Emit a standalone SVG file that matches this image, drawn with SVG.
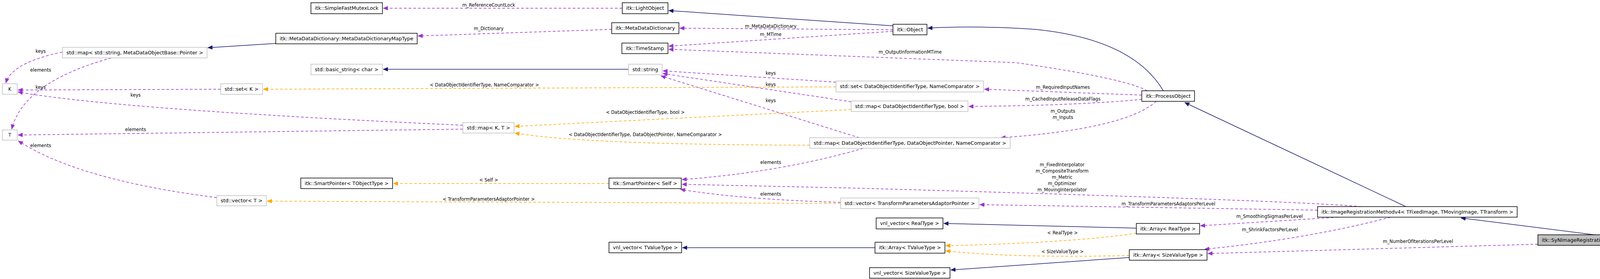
<svg xmlns="http://www.w3.org/2000/svg" width="4464" height="713" viewBox="0 0 4464 713">
<style>
text{font-family:"DejaVu Sans","Liberation Sans",sans-serif;font-size:11.5px;fill:#000}
.nt{text-anchor:middle;dominant-baseline:central}
.lb{text-anchor:middle;dominant-baseline:central}
.nb{fill:#fff;stroke:#000;stroke-width:1.5}
.ng{fill:#fff;stroke:#bfbfbf;stroke-width:1.5}
.nf{fill:#bfbfbf;stroke:#000;stroke-width:1.5}
.inh{fill:none;stroke:#191970;stroke-width:1.5;marker-end:url(#an)}
.use{fill:none;stroke:#9a32cd;stroke-width:1.5;stroke-dasharray:7,5;marker-end:url(#ap)}
.tpl{fill:none;stroke:#ffa500;stroke-width:1.5;stroke-dasharray:7,5;marker-end:url(#ao)}
</style>
<defs>
<marker id="an" markerUnits="userSpaceOnUse" markerWidth="13" markerHeight="11" refX="12" refY="5.5" orient="auto"><path d="M0,0 L13,5.5 L0,11 z" fill="#191970"/></marker>
<marker id="ap" markerUnits="userSpaceOnUse" markerWidth="13" markerHeight="11" refX="12" refY="5.5" orient="auto"><path d="M0,0 L13,5.5 L0,11 z" fill="#9a32cd"/></marker>
<marker id="ao" markerUnits="userSpaceOnUse" markerWidth="13" markerHeight="11" refX="12" refY="5.5" orient="auto"><path d="M0,0 L13,5.5 L0,11 z" fill="#ffa500"/></marker>
</defs>
<rect width="4464" height="713" fill="#fff"/>
<g id="connectors">
<path class="use" d="M1593,21 L981,21"/>
<text class="lb" x="1251" y="13">m_ReferenceCountLock</text>
<path class="inh" d="M2286,66 L1712,27"/>
<path class="use" d="M1566,75 L1070,92"/>
<text class="lb" x="1251" y="73">m_Dictionary</text>
<path class="use" d="M2286,76 L1740,72"/>
<text class="lb" x="1973" y="67">m_MetaDataDictionary</text>
<path class="use" d="M2286,80 L1712,118"/>
<text class="lb" x="1973" y="88">m_MTime</text>
<path class="use" d="M2937,232 Q2880,200 2600,160 L1712,126"/>
<text class="lb" x="2330" y="133">m_OutputInformationMTime</text>
<path class="inh" d="M706,111 L532,122"/>
<path class="use" d="M160,133 Q30,160 15,212"/>
<text class="lb" x="104" y="131">keys</text>
<path class="use" d="M285,148 Q60,210 30,330"/>
<text class="lb" x="104" y="179">elements</text>
<path class="inh" d="M1609,177 L981,177"/>
<path class="use" d="M565,228 L46,230"/>
<text class="lb" x="104" y="223">keys</text>
<path class="use" d="M1185,320 Q300,280 46,235"/>
<text class="lb" x="347" y="243">keys</text>
<path class="use" d="M1185,330 L46,345"/>
<text class="lb" x="347" y="331">elements</text>
<path class="use" d="M555,505 Q200,460 47,360"/>
<text class="lb" x="104" y="372">elements</text>
<path class="tpl" d="M2140,222 L674,228"/>
<text class="lb" x="1240" y="217">&lt; DataObjectIdentifierType, NameComparator &gt;</text>
<path class="use" d="M2140,210 L1697,181"/>
<text class="lb" x="1973" y="187">keys</text>
<path class="use" d="M2179,260 L1697,188"/>
<text class="lb" x="1973" y="216">keys</text>
<path class="use" d="M2200,352 L1692,194"/>
<text class="lb" x="1973" y="257">keys</text>
<path class="tpl" d="M2179,280 L1318,323"/>
<text class="lb" x="1652" y="287">&lt; DataObjectIdentifierType, bool &gt;</text>
<path class="tpl" d="M2073,371 Q1500,370 1318,340"/>
<text class="lb" x="1652" y="344">&lt; DataObjectIdentifierType, DataObjectPointer, NameComparator &gt;</text>
<path class="use" d="M2923,243 L2520,228"/>
<text class="lb" x="2721" y="223">m_RequiredInputNames</text>
<path class="use" d="M2923,254 Q2750,270 2480,272"/>
<text class="lb" x="2721" y="253">m_CachedInputReleaseDataFlags</text>
<path class="use" d="M2960,259 Q2880,330 2562,352"/>
<text class="lb" x="2721" y="284">m_Outputs</text>
<text class="lb" x="2721" y="300">m_Inputs</text>
<path class="inh" d="M2978,232 Q2900,100 2650,75 Q2500,65 2375,72"/>
<path class="inh" d="M3599,528 L3033,262"/>
<path class="use" d="M2210,379 Q2000,440 1746,459"/>
<text class="lb" x="1973" y="415">elements</text>
<path class="use" d="M3485,528 Q3300,512 2200,481 L1746,471"/>
<text class="lb" x="2719" y="421">m_FixedInterpolator</text>
<text class="lb" x="2719" y="437">m_CompositeTransform</text>
<text class="lb" x="2719" y="453">m_Metric</text>
<text class="lb" x="2719" y="469">m_Optimizer</text>
<text class="lb" x="2719" y="485">m_MovingInterpolator</text>
<path class="use" d="M2152,517 Q1900,510 1742,484"/>
<text class="lb" x="1973" y="496">elements</text>
<path class="tpl" d="M1559,469 L1007,469"/>
<text class="lb" x="1251" y="460">&lt; Self &gt;</text>
<path class="tpl" d="M2152,520 L684,514"/>
<text class="lb" x="1251" y="509">&lt; TransformParametersAdaptorPointer &gt;</text>
<path class="use" d="M3373,537 L2508,523"/>
<text class="lb" x="2991" y="521">m_TransformParametersAdaptorsPerLevel</text>
<path class="use" d="M3426,555 L3073,577"/>
<text class="lb" x="3250" y="553">m_SmoothingSigmasPerLevel</text>
<path class="use" d="M3560,555 Q3350,610 3084,637"/>
<text class="lb" x="3251" y="587">m_ShrinkFactorsPerLevel</text>
<path class="use" d="M3937,624 L3092,648"/>
<text class="lb" x="3630" y="617">m_NumberOfIterationsPerLevel</text>
<path class="inh" d="M4090,601 L3740,557"/>
<path class="inh" d="M2909,583 L2416,571"/>
<path class="tpl" d="M2909,596 Q2750,620 2421,628"/>
<text class="lb" x="2720" y="595">&lt; RealType &gt;</text>
<path class="tpl" d="M2891,653 Q2600,660 2421,641"/>
<text class="lb" x="2720" y="643">&lt; SizeValueType &gt;</text>
<path class="inh" d="M2891,658 L2434,690"/>
<path class="inh" d="M2240,633 L1747,633"/>
</g>
<g id="n_sfml"><rect class="nb" x="796" y="7" width="183" height="28"/><text class="nt" x="887.5" y="21" textLength="163" lengthAdjust="spacingAndGlyphs">itk::SimpleFastMutexLock</text></g>
<g id="n_mapType"><rect class="nb" x="706" y="85" width="362" height="27"/><text class="nt" x="887" y="98.5" textLength="342" lengthAdjust="spacingAndGlyphs">itk::MetaDataDictionary::MetaDataDictionaryMapType</text></g>
<g id="n_mapStr"><rect class="ng" x="160" y="121" width="370" height="27"/><text class="nt" x="345" y="134.5" textLength="350" lengthAdjust="spacingAndGlyphs">std::map&lt; std::string, MetaDataObjectBase::Pointer &gt;</text></g>
<g id="n_basicString"><rect class="ng" x="796" y="164" width="183" height="27"/><text class="nt" x="887.5" y="177.5" textLength="163" lengthAdjust="spacingAndGlyphs">std::basic_string&lt; char &gt;</text></g>
<g id="n_K"><rect class="ng" x="6" y="214" width="38" height="27"/><text class="nt" x="25" y="227.5">K</text></g>
<g id="n_setK"><rect class="ng" x="565" y="214" width="107" height="27"/><text class="nt" x="618.5" y="227.5" textLength="87" lengthAdjust="spacingAndGlyphs">std::set&lt; K &gt;</text></g>
<g id="n_T"><rect class="ng" x="6" y="332" width="38" height="26"/><text class="nt" x="25" y="345">T</text></g>
<g id="n_spTObj"><rect class="nb" x="770" y="455" width="235" height="27"/><text class="nt" x="887.5" y="468.5" textLength="215" lengthAdjust="spacingAndGlyphs">itk::SmartPointer&lt; TObjectType &gt;</text></g>
<g id="n_vecT"><rect class="ng" x="555" y="500" width="127" height="26"/><text class="nt" x="618.5" y="513" textLength="107" lengthAdjust="spacingAndGlyphs">std::vector&lt; T &gt;</text></g>
<g id="n_light"><rect class="nb" x="1593" y="7" width="117" height="28"/><text class="nt" x="1651.5" y="21" textLength="97" lengthAdjust="spacingAndGlyphs">itk::LightObject</text></g>
<g id="n_mdd"><rect class="nb" x="1566" y="58" width="172" height="28"/><text class="nt" x="1652" y="72" textLength="152" lengthAdjust="spacingAndGlyphs">itk::MetaDataDictionary</text></g>
<g id="n_ts"><rect class="nb" x="1592" y="110" width="118" height="27"/><text class="nt" x="1651" y="123.5" textLength="98" lengthAdjust="spacingAndGlyphs">itk::TimeStamp</text></g>
<g id="n_string"><rect class="ng" x="1609" y="164" width="86" height="27"/><text class="nt" x="1652" y="177.5" textLength="66" lengthAdjust="spacingAndGlyphs">std::string</text></g>
<g id="n_mapKT"><rect class="ng" x="1185" y="313" width="131" height="27"/><text class="nt" x="1250.5" y="326.5" textLength="111" lengthAdjust="spacingAndGlyphs">std::map&lt; K, T &gt;</text></g>
<g id="n_setDO"><rect class="ng" x="2140" y="207" width="378" height="28"/><text class="nt" x="2329" y="221" textLength="358" lengthAdjust="spacingAndGlyphs">std::set&lt; DataObjectIdentifierType, NameComparator &gt;</text></g>
<g id="n_mapDObool"><rect class="ng" x="2179" y="258" width="299" height="27"/><text class="nt" x="2328.5" y="271.5" textLength="279" lengthAdjust="spacingAndGlyphs">std::map&lt; DataObjectIdentifierType, bool &gt;</text></g>
<g id="n_mapDOP"><rect class="ng" x="2073" y="352" width="513" height="27"/><text class="nt" x="2329.5" y="365.5" textLength="493" lengthAdjust="spacingAndGlyphs">std::map&lt; DataObjectIdentifierType, DataObjectPointer, NameComparator &gt;</text></g>
<g id="n_spSelf"><rect class="nb" x="1559" y="455" width="185" height="27"/><text class="nt" x="1651.5" y="468.5" textLength="165" lengthAdjust="spacingAndGlyphs">itk::SmartPointer&lt; Self &gt;</text></g>
<g id="n_vecTPAP"><rect class="ng" x="2152" y="506" width="354" height="27"/><text class="nt" x="2329" y="519.5" textLength="334" lengthAdjust="spacingAndGlyphs">std::vector&lt; TransformParametersAdaptorPointer &gt;</text></g>
<g id="n_vnlTV"><rect class="nb" x="1559" y="619" width="186" height="27"/><text class="nt" x="1652" y="632.5" textLength="166" lengthAdjust="spacingAndGlyphs">vnl_vector&lt; TValueType &gt;</text></g>
<g id="n_object"><rect class="nb" x="2286" y="62" width="87" height="27"/><text class="nt" x="2329.5" y="75.5" textLength="67" lengthAdjust="spacingAndGlyphs">itk::Object</text></g>
<g id="n_po"><rect class="nb" x="2923" y="232" width="135" height="27"/><text class="nt" x="2990.5" y="245.5" textLength="115" lengthAdjust="spacingAndGlyphs">itk::ProcessObject</text></g>
<g id="n_vnlReal"><rect class="nb" x="2243" y="557" width="171" height="28"/><text class="nt" x="2328.5" y="571" textLength="151" lengthAdjust="spacingAndGlyphs">vnl_vector&lt; RealType &gt;</text></g>
<g id="n_arrReal"><rect class="nb" x="2909" y="571" width="162" height="27"/><text class="nt" x="2990" y="584.5" textLength="142" lengthAdjust="spacingAndGlyphs">itk::Array&lt; RealType &gt;</text></g>
<g id="n_arrTV"><rect class="nb" x="2240" y="619" width="179" height="28"/><text class="nt" x="2329.5" y="633" textLength="159" lengthAdjust="spacingAndGlyphs">itk::Array&lt; TValueType &gt;</text></g>
<g id="n_arrSV"><rect class="nb" x="2891" y="638" width="199" height="27"/><text class="nt" x="2990.5" y="651.5" textLength="179" lengthAdjust="spacingAndGlyphs">itk::Array&lt; SizeValueType &gt;</text></g>
<g id="n_vnlSV"><rect class="nb" x="2226" y="684" width="206" height="27"/><text class="nt" x="2329" y="697.5" textLength="186" lengthAdjust="spacingAndGlyphs">vnl_vector&lt; SizeValueType &gt;</text></g>
<g id="n_irm"><rect class="nb" x="3373" y="528" width="511" height="27"/><text class="nt" x="3628.5" y="541.5" textLength="491" lengthAdjust="spacingAndGlyphs">itk::ImageRegistrationMethodv4&lt; TFixedImage, TMovingImage, TTransform &gt;</text></g>
<g id="n_syn"><rect class="nf" x="3937" y="600" width="521" height="27"/><text class="nt" x="4197.5" y="613.5" textLength="501" lengthAdjust="spacingAndGlyphs">itk::SyNImageRegistrationMethod&lt; TFixedImage, TMovingImage, TTransform &gt;</text></g>
</svg>
